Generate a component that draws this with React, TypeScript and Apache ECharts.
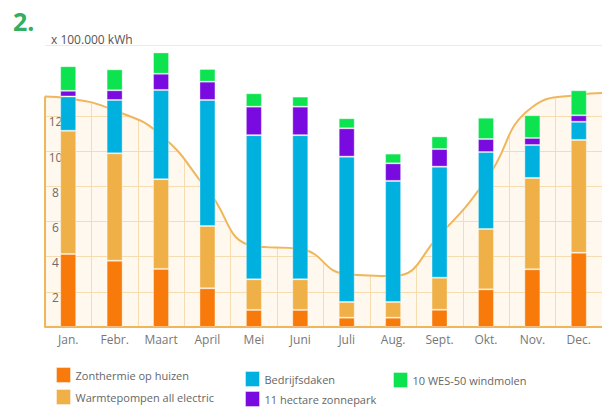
import React, { useEffect, useRef } from "react";
import * as echarts from "echarts";

const months = ["Jan.", "Febr.", "Maart", "April", "Mei", "Juni", "Juli", "Aug.", "Sept.", "Okt.", "Nov.", "Dec."];
const zonthermie = [4.15, 3.77, 3.3, 2.2, 0.97, 0.97, 0.53, 0.53, 0.98, 2.14, 3.28, 4.22];
const warmtepompen = [7.0, 6.1, 5.1, 3.54, 1.74, 1.74, 0.89, 0.89, 1.82, 3.43, 5.19, 6.41];
const bedrijfsdaken = [1.95, 3.03, 5.07, 7.16, 8.19, 8.19, 8.26, 6.88, 6.31, 4.37, 1.87, 1.03];
const zonnepark = [0.32, 0.55, 0.92, 1.04, 1.62, 1.62, 1.61, 1.0, 1.0, 0.74, 0.4, 0.37];
const windmolen = [1.4, 1.19, 1.21, 0.72, 0.76, 0.57, 0.57, 0.55, 0.72, 1.21, 1.29, 1.42];

// demand curve (positions in month index units, -0.5 / 11.5 = chart edges)
const curveX = [-0.5, 0, 1, 2, 3, 4, 5, 6, 7, 8, 9, 10, 11, 11.5];
const curveY = [13.1, 13.0, 12.3, 10.9, 7.8, 4.6, 4.43, 3.0, 2.9, 5.23, 8.35, 12.5, 13.2, 13.3];

const yTicks = [2, 4, 6, 8, 10, 12];

const names = [
  "Zonthermie op huizen",
  "Warmtepompen all electric",
  "Bedrijfsdaken",
  "11 hectare zonnepark",
  "10 WES-50 windmolen",
];
const colors = ["#F77A0A", "#EFB047", "#00B1DF", "#7A0BE0", "#0DE24F"];
const seriesData = [zonthermie, warmtepompen, bedrijfsdaken, zonnepark, windmolen];

const FONT = "'Open Sans', 'Noto Sans', sans-serif";
const GRID_COLOR = "#F8E0BC";
const CURVE_COLOR = "#F0B65C";

// legend placement (left, top) per series
const legendPos = [
  [56, 367],
  [56, 389],
  [245, 371],
  [245, 391],
  [393, 372],
];

export default function App() {
  const ref = useRef<HTMLDivElement>(null);
  useEffect(() => {
    if (!ref.current) return;
    const chart = echarts.init(ref.current, null, { renderer: "svg" });
    const curve = curveX.map((x, i) => [x, curveY[i]]);
    const legendText = { color: "#666", fontSize: 11, fontFamily: FONT };
    const option: any = {
      animation: false,
      backgroundColor: "#fff",
      textStyle: { fontFamily: FONT },
      graphic: [
        {
          type: "text",
          left: 13,
          top: 8,
          style: { text: "2.", fontSize: 25, fontWeight: "bold", fill: "#35AE5F", fontFamily: FONT },
        },
        {
          type: "text",
          left: 51,
          top: 33,
          style: { text: "x 100.000 kWh", fontSize: 12, fill: "#555", fontFamily: FONT },
        },
      ],
      grid: { left: 45, top: 45.4, width: 567.6, height: 281.6, containLabel: false },
      legend: names.map((n, i) => ({
        data: [n],
        orient: "horizontal",
        padding: 0,
        left: legendPos[i][0],
        top: legendPos[i][1],
        itemWidth: 14,
        itemHeight: 15,
        itemGap: 6,
        icon: "rect",
        textStyle: legendText,
        itemStyle: { borderColor: "rgba(255,255,255,0.4)", borderWidth: 1 },
      })),
      xAxis: [
        {
          type: "category",
          data: months,
          boundaryGap: true,
          axisTick: { show: false },
          axisLine: { show: true, lineStyle: { color: CURVE_COLOR, width: 2 } },
          axisLabel: { color: "#777", fontSize: 12, margin: 6, fontFamily: FONT },
          splitLine: { show: true, lineStyle: { color: GRID_COLOR, width: 1 } },
        },
        { type: "value", min: -0.5, max: 11.5, show: false },
      ],
      yAxis: {
        type: "value",
        min: 0,
        max: 16,
        interval: 2,
        axisLine: { show: false },
        axisTick: { show: false },
        axisLabel: {
          inside: true,
          align: "center",
          verticalAlign: "top",
          margin: 10.5,
          color: "#666",
          fontSize: 12,
          fontFamily: FONT,
          formatter: (v: number) => (yTicks.indexOf(v) >= 0 ? String(v) : ""),
        },
        splitLine: { show: true, lineStyle: { color: GRID_COLOR, width: 1 } },
      },
      series: [
        {
          type: "line",
          name: "cover",
          xAxisIndex: 1,
          data: curve,
          smooth: true,
          symbol: "none",
          lineStyle: { width: 0 },
          areaStyle: { color: "#fff", opacity: 1, origin: "end" },
          z: 1,
          silent: true,
        },
        {
          type: "line",
          name: "curve",
          xAxisIndex: 1,
          data: curve,
          smooth: true,
          symbol: "none",
          lineStyle: { width: 2, color: CURVE_COLOR },
          areaStyle: { color: "rgba(240,170,60,0.12)", origin: "start" },
          z: 1,
          silent: true,
        },
        {
          type: "line",
          name: "frame",
          xAxisIndex: 1,
          data: [
            [-0.5, 0],
            [-0.5, curveY[0]],
          ],
          symbol: "none",
          clip: false,
          lineStyle: { width: 2, color: CURVE_COLOR },
          z: 3,
          silent: true,
        },
        ...names.map((n, i) => ({
          type: "bar",
          name: n,
          stack: "total",
          xAxisIndex: 0,
          barWidth: 16,
          data: seriesData[i],
          itemStyle: { color: colors[i], borderColor: "rgba(255,255,255,0.35)", borderWidth: 1 },
          z: 2,
        })),
      ],
    };
    chart.setOption(option);
    return () => chart.dispose();
  }, []);
  return (
    <div
      ref={ref}
      style={{ position: "fixed", left: 0, top: 0, width: 602, height: 407 }}
    />
  );
}
